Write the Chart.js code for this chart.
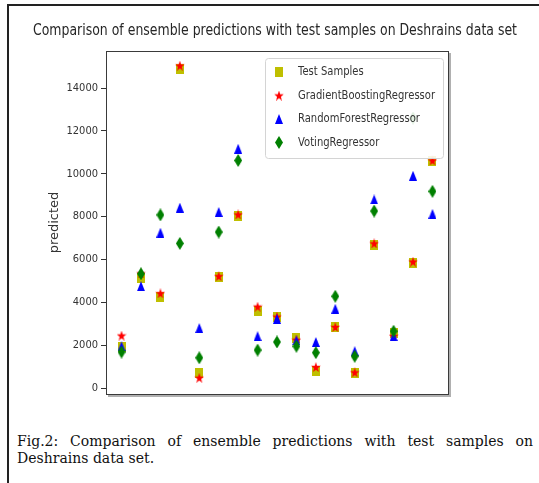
<!DOCTYPE html>
<html>
<head>
<meta charset="utf-8">
<title>Deshrains ensemble predictions</title>
<script src="https://cdn.jsdelivr.net/npm/chart.js@4.4.1/dist/chart.umd.min.js"></script>
<style>
    body { margin: 0; background: #fff; }
    #page { position: relative; width: 539px; height: 483px; overflow: hidden; }
    #frame { position: absolute; left: 7px; top: 4px; right: -10px; bottom: -10px;
             border-left: 2px solid #222; border-top: 2px solid #222; }
    #plot { position: absolute; left: 0; top: 0; }
    #caption { position: absolute; left: 17px; top: 433px; width: 516px; color: #111;
               font: 14px 'DejaVu Serif', 'Liberation Serif', serif; line-height: 17px; }
    #caption .l1 { text-align: justify; text-align-last: justify; }
</style>
</head>
<body>
<div id="page">
    <div id="frame"></div>
    <canvas id="plot" width="539" height="414"></canvas>
    <div id="caption">
        <div class="l1">Fig.2: Comparison of ensemble predictions with test samples on</div>
        <div>Deshrains data set.</div>
    </div>
</div>
<script>
// 數據
const samples = [0, 1, 2, 3, 4, 5, 6, 7, 8, 9, 10, 11, 12, 13, 14, 15, 16];
const testSamples      = [1900, 5150, 4250, 14900, 700, 5200, 8050, 3580, 3300, 2350, 800, 2830, 720, 6680, 2560, 5850, 10600];
const gradientBoosting = [2450, 5350, 4420, 15050, 480, 5220, 8100, 3800, 3330, 2250, 980, 2850, 730, 6750, 2430, 5900, 10620];
const randomForest     = [1950, 4750, 7250, 8420, 2800, 8220, 11170, 2420, 3230, 2220, 2150, 3700, 1720, 8800, 2420, 9910, 8130];
const votingRegressor  = [1680, 5330, 8080, 6750, 1410, 7280, 10620, 1770, 2150, 1950, 1650, 4280, 1480, 8260, 2650, 12600, 9180];
const yTicks = [0, 2000, 4000, 6000, 8000, 10000, 12000, 14000];

const chartTitle = 'Comparison of ensemble predictions with test samples on Deshrains data set';
const yTitle = 'predicted';
const seriesNames = ['Test Samples', 'GradientBoostingRegressor', 'RandomForestRegressor', 'VotingRegressor'];

// 標記圖形 (畫在小 canvas 上當 pointStyle)
function makeMarker(shape, color, w, h) {
    const c = document.createElement('canvas');
    c.width = w;
    c.height = h;
    const g = c.getContext('2d');
    g.fillStyle = color;
    g.beginPath();
    if (shape === 'square') {
        g.rect(0, 0, w, h);
    } else if (shape === 'triangle') {
        g.moveTo(w / 2, 0);
        g.lineTo(w, h);
        g.lineTo(0, h);
    } else if (shape === 'diamond') {
        g.moveTo(w / 2, 0);
        g.lineTo(w, h / 2);
        g.lineTo(w / 2, h);
        g.lineTo(0, h / 2);
    } else if (shape === 'star') {
        for (let k = 0; k < 10; k++) {
            const a = -Math.PI / 2 + k * Math.PI / 5;
            const f = k % 2 === 0 ? 1 : 0.4;
            const px = w / 2 + Math.cos(a) * (w / 2) * f;
            const py = h * 0.55 + Math.sin(a) * (h * 0.55) * f;
            if (k === 0) g.moveTo(px, py); else g.lineTo(px, py);
        }
    }
    g.closePath();
    g.fill();
    return c;
}

const markers = [
    makeMarker('square', '#bfbf00', 8, 10),
    makeMarker('star', '#ff0000', 10, 10),
    makeMarker('triangle', '#0000ff', 8, 10),
    makeMarker('diamond', '#008000', 8, 13)
];

function toPoints(values) {
    return samples.map((x, i) => ({ x: x, y: values[i] }));
}

// 標題、圖例、外框
const decorPlugin = {
    id: 'decor',
    afterDatasetsDraw(chart) {
        const ctx = chart.ctx;
        const area = chart.chartArea;

        // 軸框
        ctx.save();
        ctx.strokeStyle = '#b0b0b0';
        ctx.lineWidth = 2;
        ctx.beginPath();
        ctx.moveTo(area.right + 2, area.top + 2);
        ctx.lineTo(area.right + 2, area.bottom + 2);
        ctx.lineTo(area.left + 2, area.bottom + 2);
        ctx.stroke();
        ctx.strokeStyle = '#3a3a3a';
        ctx.lineWidth = 1;
        ctx.strokeRect(area.left + 0.5, area.top + 0.5, area.right - area.left, area.bottom - area.top);
        ctx.restore();

        // 圖例
        const lx = 265, ly = 58, lw = 178, lh = 100;
        ctx.save();
        ctx.beginPath();
        ctx.roundRect(lx + 0.5, ly + 0.5, lw, lh, 3);
        ctx.fillStyle = 'rgba(255,255,255,0.88)';
        ctx.fill();
        ctx.strokeStyle = '#d4d4d4';
        ctx.lineWidth = 1;
        ctx.stroke();
        ctx.font = '13px "DejaVu Sans", sans-serif';
        ctx.fillStyle = '#333';
        ctx.textAlign = 'left';
        ctx.textBaseline = 'middle';
        seriesNames.forEach((name, i) => {
            const rowY = ly + 14 + i * 23.5;
            const m = markers[i];
            ctx.drawImage(m, 279 - m.width / 2, rowY - m.height / 2);
            ctx.save();
            ctx.translate(298, rowY);
            ctx.scale(0.77, 1);
            ctx.fillText(name, 0, 0);
            ctx.restore();
        });
        ctx.restore();

        // 標題
        ctx.save();
        ctx.font = '15px "DejaVu Sans", sans-serif';
        ctx.fillStyle = '#262626';
        ctx.textAlign = 'center';
        ctx.textBaseline = 'middle';
        const sx = 484 / ctx.measureText(chartTitle).width;
        ctx.translate(275, 31);
        ctx.scale(sx, 1);
        ctx.fillText(chartTitle, 0, 0);
        ctx.restore();
    }
};

const ctx = document.getElementById('plot').getContext('2d');
new Chart(ctx, {
    type: 'scatter',
    data: {
        datasets: [
            { label: seriesNames[0], data: toPoints(testSamples), pointStyle: markers[0], order: 4 },
            { label: seriesNames[1], data: toPoints(gradientBoosting), pointStyle: markers[1], order: 3 },
            { label: seriesNames[2], data: toPoints(randomForest), pointStyle: markers[2], order: 2 },
            { label: seriesNames[3], data: toPoints(votingRegressor), pointStyle: markers[3], order: 1 }
        ]
    },
    options: {
        responsive: false,
        animation: false,
        events: [],
        layout: {
            padding: { left: 0, top: 51, right: 91, bottom: 20 }
        },
        plugins: {
            legend: { display: false },
            title: { display: false },
            tooltip: { enabled: false }
        },
        scales: {
            x: {
                type: 'linear',
                display: false,
                min: -0.8,
                max: 16.8
            },
            y: {
                type: 'linear',
                min: -280,
                max: 15730,
                afterBuildTicks: function(scale) {
                    scale.ticks = yTicks.map(v => ({ value: v }));
                },
                afterFit: function(scale) {
                    scale.width = 106;
                },
                border: { display: false },
                grid: {
                    drawOnChartArea: false,
                    drawTicks: true,
                    tickLength: 5,
                    color: '#333'
                },
                ticks: {
                    padding: 3,
                    color: '#333',
                    font: { family: "'DejaVu Sans Condensed', 'Liberation Sans Narrow', 'DejaVu Sans'", size: 11 },
                    callback: function(value) {
                        return String(value);
                    }
                },
                title: {
                    display: true,
                    text: yTitle,
                    color: '#333',
                    padding: { top: 47, bottom: 0 },
                    font: { family: "'DejaVu Sans'", size: 13 }
                }
            }
        }
    },
    plugins: [decorPlugin]
});
</script>
</body>
</html>
